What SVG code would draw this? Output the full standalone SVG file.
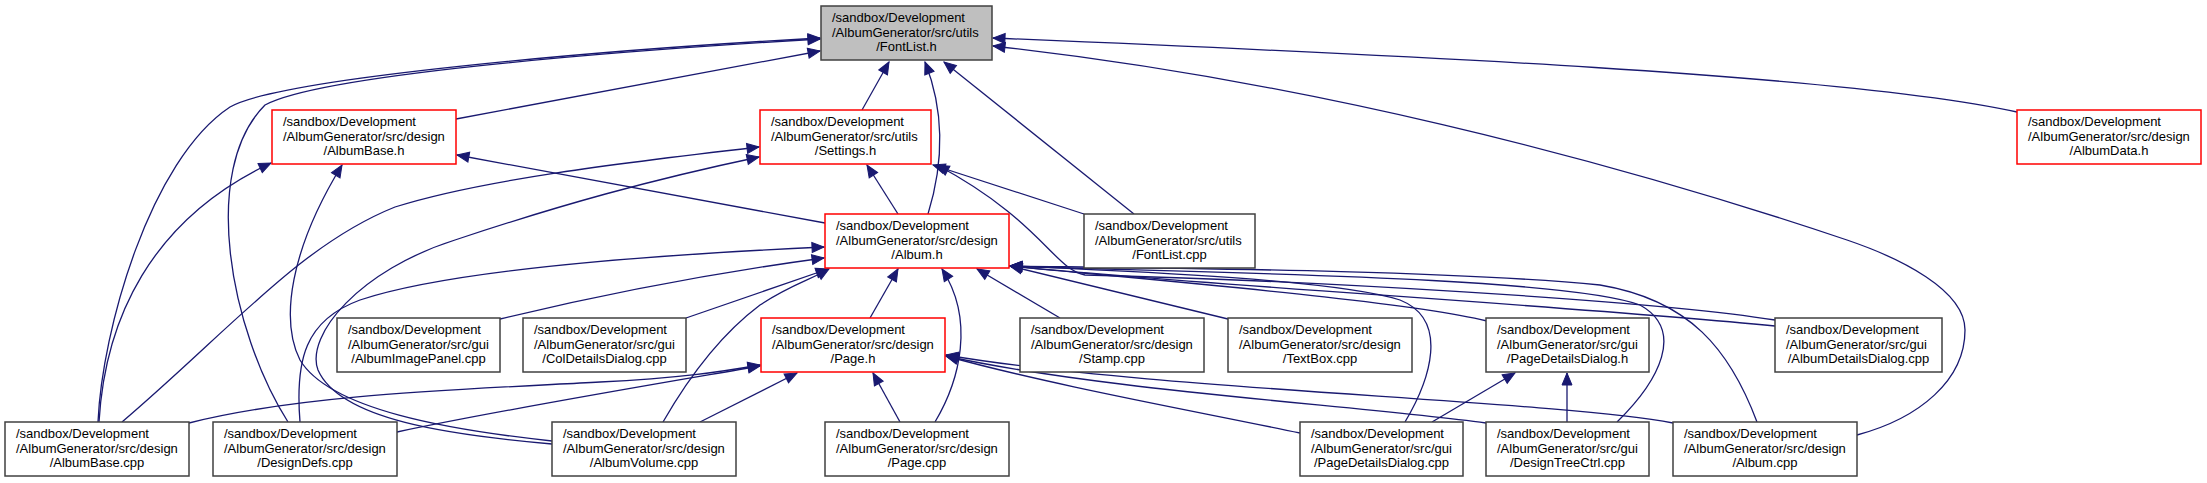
<svg xmlns="http://www.w3.org/2000/svg" width="2207" height="483" viewBox="0 0 2207 483">
<style>
.n rect{fill:#ffffff;stroke:#404040;stroke-width:1.5}
.n.r rect{stroke:#ff0000}
.n.g rect{fill:#bfbfbf}
.n text{font-family:"Liberation Sans",Arial,sans-serif;font-size:13px;fill:#000}
.n text.c{text-anchor:middle}
#edges path{fill:none;stroke:#191970;stroke-width:1.3;marker-end:url(#ah)}
</style>
<defs>
<marker id="ah" markerUnits="userSpaceOnUse" markerWidth="13" markerHeight="11" refX="12" refY="5" orient="auto" overflow="visible">
<path d="M0,0 L12,5 L0,10 z" fill="#191970" stroke="#191970" stroke-width="1"/>
</marker>
</defs>
<rect width="2207" height="483" fill="#ffffff"/>
<g id="edges">
<path d="M456,119 L820,51"/>
<path d="M862,110 L889,62"/>
<path d="M928,214 C940,175 948,120 925,62"/>
<path d="M1134,214 L944,62"/>
<path d="M2017,112 C1850,75 1400,55 993,38"/>
<path d="M1857,435 C1920,418 1965,380 1965,330 C1965,290 1900,258 1847,240 C1600,157 1300,80 993,46"/>
<path d="M98,422 C102,330 150,160 230,107 C280,78 600,50 820,38"/>
<path d="M288,422 C230,330 200,170 265,105 C320,75 600,52 820,39"/>
<path d="M99,422 C105,320 150,220 271,163"/>
<path d="M552,441 C450,430 330,410 300,360 C280,320 290,250 342,165"/>
<path d="M825,223 L457,155"/>
<path d="M122,422 C230,330 300,245 395,207 C480,180 620,163 759,147"/>
<path d="M552,444 C450,435 340,420 318,370 C305,335 360,270 455,240 C560,205 650,180 759,157"/>
<path d="M898,214 L867,165"/>
<path d="M1084,214 L933,165"/>
<path d="M1775,320 C1650,300 1300,280 1085,275 C1055,270 1040,220 937,165"/>
<path d="M300,422 C295,360 305,320 360,300 C450,270 650,255 824,247"/>
<path d="M500,319 C600,295 720,272 824,258"/>
<path d="M686,318 L828,269"/>
<path d="M663,422 C690,375 720,335 760,305 C790,285 810,280 829,269"/>
<path d="M870,318 L898,269"/>
<path d="M935,422 C960,380 975,320 942,269"/>
<path d="M1060,318 L977,269"/>
<path d="M1228,319 L1010,266"/>
<path d="M1487,321 C1400,300 1150,280 1010,266"/>
<path d="M1405,422 C1430,380 1450,320 1400,300 C1330,278 1100,270 1010,266"/>
<path d="M1617,422 C1660,380 1685,330 1640,305 C1560,275 1150,272 1010,266"/>
<path d="M1757,422 C1730,350 1690,300 1600,285 C1450,270 1150,268 1010,266"/>
<path d="M1775,326 C1560,305 1200,285 1010,266"/>
<path d="M189,423 C300,395 450,390 600,382 C680,378 720,372 760,365"/>
<path d="M397,432 C500,410 650,385 760,366"/>
<path d="M700,422 L797,373"/>
<path d="M900,422 L873,373"/>
<path d="M1300,433 C1200,412 1050,385 946,356"/>
<path d="M1486,423 C1350,405 1100,390 946,356"/>
<path d="M1673,423 C1550,400 1150,390 946,355"/>
<path d="M1432,422 L1515,373"/>
<path d="M1567,422 L1567,373"/>
</g>
<g id="n_FontList_h" class="n g"><rect x="821" y="6" width="171" height="54"/><text x="832" y="22">/sandbox/Development</text><text x="832" y="36.5">/AlbumGenerator/src/utils</text><text class="c" x="906.5" y="51">/FontList.h</text></g>
<g id="n_AlbumBase_h" class="n r"><rect x="272" y="110" width="184" height="54"/><text x="283" y="126">/sandbox/Development</text><text x="283" y="140.5">/AlbumGenerator/src/design</text><text class="c" x="364" y="155">/AlbumBase.h</text></g>
<g id="n_Settings_h" class="n r"><rect x="760" y="110" width="171" height="54"/><text x="771" y="126">/sandbox/Development</text><text x="771" y="140.5">/AlbumGenerator/src/utils</text><text class="c" x="845.5" y="155">/Settings.h</text></g>
<g id="n_AlbumData_h" class="n r"><rect x="2017" y="110" width="184" height="54"/><text x="2028" y="126">/sandbox/Development</text><text x="2028" y="140.5">/AlbumGenerator/src/design</text><text class="c" x="2109" y="155">/AlbumData.h</text></g>
<g id="n_Album_h" class="n r"><rect x="825" y="214" width="184" height="54"/><text x="836" y="230">/sandbox/Development</text><text x="836" y="244.5">/AlbumGenerator/src/design</text><text class="c" x="917" y="259">/Album.h</text></g>
<g id="n_FontList_cpp" class="n"><rect x="1084" y="214" width="171" height="54"/><text x="1095" y="230">/sandbox/Development</text><text x="1095" y="244.5">/AlbumGenerator/src/utils</text><text class="c" x="1169.5" y="259">/FontList.cpp</text></g>
<g id="n_AlbumImagePanel_cpp" class="n"><rect x="337" y="318" width="163" height="54"/><text x="348" y="334">/sandbox/Development</text><text x="348" y="348.5">/AlbumGenerator/src/gui</text><text class="c" x="418.5" y="363">/AlbumImagePanel.cpp</text></g>
<g id="n_ColDetailsDialog_cpp" class="n"><rect x="523" y="318" width="163" height="54"/><text x="534" y="334">/sandbox/Development</text><text x="534" y="348.5">/AlbumGenerator/src/gui</text><text class="c" x="604.5" y="363">/ColDetailsDialog.cpp</text></g>
<g id="n_Page_h" class="n r"><rect x="761" y="318" width="184" height="54"/><text x="772" y="334">/sandbox/Development</text><text x="772" y="348.5">/AlbumGenerator/src/design</text><text class="c" x="853" y="363">/Page.h</text></g>
<g id="n_Stamp_cpp" class="n"><rect x="1020" y="318" width="184" height="54"/><text x="1031" y="334">/sandbox/Development</text><text x="1031" y="348.5">/AlbumGenerator/src/design</text><text class="c" x="1112" y="363">/Stamp.cpp</text></g>
<g id="n_TextBox_cpp" class="n"><rect x="1228" y="318" width="184" height="54"/><text x="1239" y="334">/sandbox/Development</text><text x="1239" y="348.5">/AlbumGenerator/src/design</text><text class="c" x="1320" y="363">/TextBox.cpp</text></g>
<g id="n_PageDetailsDialog_h" class="n"><rect x="1486" y="318" width="163" height="54"/><text x="1497" y="334">/sandbox/Development</text><text x="1497" y="348.5">/AlbumGenerator/src/gui</text><text class="c" x="1567.5" y="363">/PageDetailsDialog.h</text></g>
<g id="n_AlbumDetailsDialog_cpp" class="n"><rect x="1775" y="318" width="167" height="54"/><text x="1786" y="334">/sandbox/Development</text><text x="1786" y="348.5">/AlbumGenerator/src/gui</text><text class="c" x="1858.5" y="363">/AlbumDetailsDialog.cpp</text></g>
<g id="n_AlbumBase_cpp" class="n"><rect x="5" y="422" width="184" height="54"/><text x="16" y="438">/sandbox/Development</text><text x="16" y="452.5">/AlbumGenerator/src/design</text><text class="c" x="97" y="467">/AlbumBase.cpp</text></g>
<g id="n_DesignDefs_cpp" class="n"><rect x="213" y="422" width="184" height="54"/><text x="224" y="438">/sandbox/Development</text><text x="224" y="452.5">/AlbumGenerator/src/design</text><text class="c" x="305" y="467">/DesignDefs.cpp</text></g>
<g id="n_AlbumVolume_cpp" class="n"><rect x="552" y="422" width="184" height="54"/><text x="563" y="438">/sandbox/Development</text><text x="563" y="452.5">/AlbumGenerator/src/design</text><text class="c" x="644" y="467">/AlbumVolume.cpp</text></g>
<g id="n_Page_cpp" class="n"><rect x="825" y="422" width="184" height="54"/><text x="836" y="438">/sandbox/Development</text><text x="836" y="452.5">/AlbumGenerator/src/design</text><text class="c" x="917" y="467">/Page.cpp</text></g>
<g id="n_PageDetailsDialog_cpp" class="n"><rect x="1300" y="422" width="163" height="54"/><text x="1311" y="438">/sandbox/Development</text><text x="1311" y="452.5">/AlbumGenerator/src/gui</text><text class="c" x="1381.5" y="467">/PageDetailsDialog.cpp</text></g>
<g id="n_DesignTreeCtrl_cpp" class="n"><rect x="1486" y="422" width="163" height="54"/><text x="1497" y="438">/sandbox/Development</text><text x="1497" y="452.5">/AlbumGenerator/src/gui</text><text class="c" x="1567.5" y="467">/DesignTreeCtrl.cpp</text></g>
<g id="n_Album_cpp" class="n"><rect x="1673" y="422" width="184" height="54"/><text x="1684" y="438">/sandbox/Development</text><text x="1684" y="452.5">/AlbumGenerator/src/design</text><text class="c" x="1765" y="467">/Album.cpp</text></g>
</svg>
